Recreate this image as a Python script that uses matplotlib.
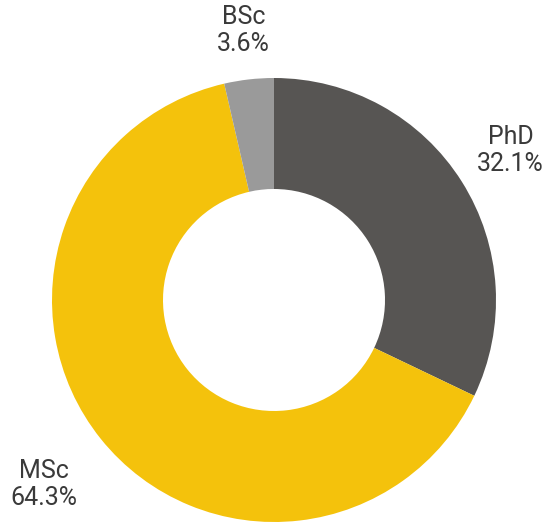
import numpy as np
import matplotlib
matplotlib.use('Agg')
import matplotlib.pyplot as plt

# ── data ────────────────────────────────────────────────────────────────
labels = ['PhD', 'MSc', 'BSc']
shares = [32.1, 64.3, 3.6]
colors = ['#575553', '#F4C20C', '#9A9A9A']
label_dist = [1.26, 1.33, 1.22]

W, H = 549, 523
fig = plt.figure(figsize=(W / 100, H / 100), dpi=100)
fig.patch.set_facecolor('white')

# pie centred at (274, 300) px, radius 222 px
cx, cy, r = 274, 300, 222
ax = fig.add_axes([(cx - r) / W, (H - cy - r) / H, 2 * r / W, 2 * r / H])

wedges, _ = ax.pie(shares, colors=colors, startangle=90, counterclock=False,
                   wedgeprops=dict(width=0.5, edgecolor='none'))
ax.set_xlim(-1, 1)
ax.set_ylim(-1, 1)
ax.set_aspect('equal')
ax.axis('off')

for w, lab, val, d in zip(wedges, labels, shares, label_dist):
    ang = np.deg2rad((w.theta1 + w.theta2) / 2)
    ax.text(d * np.cos(ang), d * np.sin(ang), f'{lab}\n{val:.1f}%',
            ha='center', va='center', fontsize=18, color='#3a3a3a',
            family='Roboto', fontweight='normal', linespacing=1.15,
            clip_on=False)

fig.savefig('out.png', dpi=100, facecolor='white')
